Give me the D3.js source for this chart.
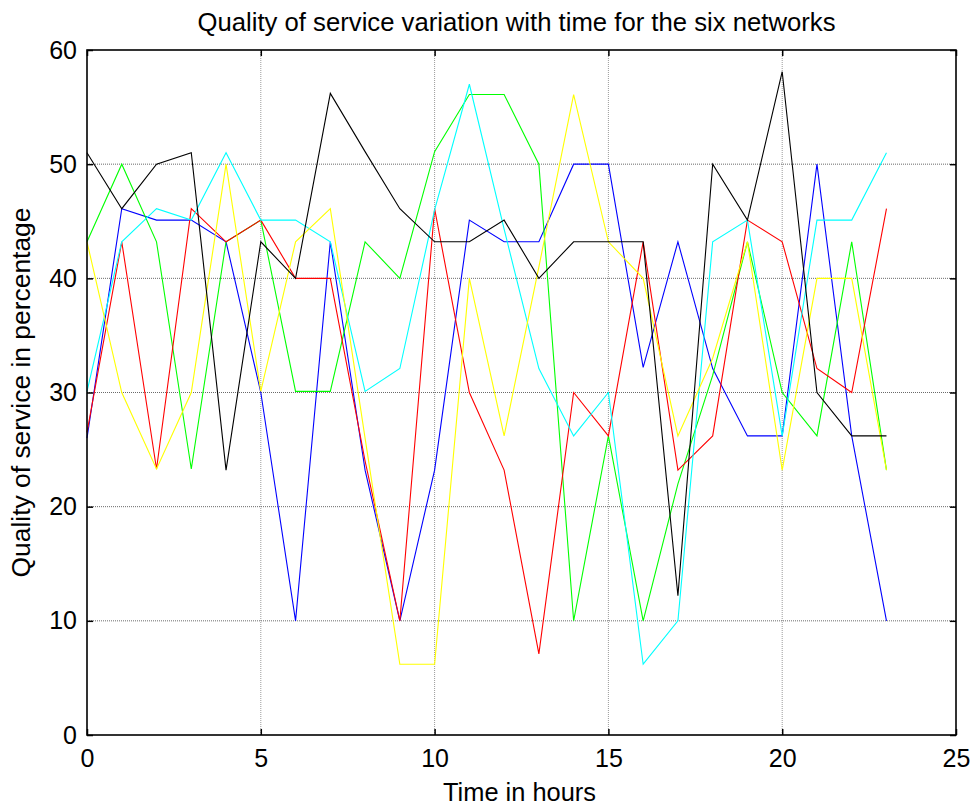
<!DOCTYPE html>
<html>
<head>
<meta charset="utf-8">
<script src="https://cdn.jsdelivr.net/npm/d3@7"></script>
<style>
  html, body { margin: 0; padding: 0; background: #fff; }
  svg { display: block; }
  text { font-family: "Liberation Sans", Arial, sans-serif; fill: #000; }
</style>
</head>
<body>
<svg id="chart" width="972" height="805"></svg>
<script>
// Hours of the day (0..23)
const hours = d3.range(0, 24);

// Quality of service (%) per network, one value per hour
const blueNet   = [26, 46.1, 45.1, 45.1, 43.2, 30, 10, 43.2, 23.2, 10, 23.2, 45.1, 43.2, 43.2, 50, 50, 32.2, 43.2, 32.1, 26.2, 26.2, 50, 26.2, 10];
const redNet    = [26.5, 43.2, 23.3, 46.1, 43.2, 45.1, 40, 40, 24, 10, 46.1, 30, 23.2, 7.1, 30, 26.2, 43.2, 23.2, 26.2, 45.1, 43.2, 32.1, 30, 46.1];
const greenNet  = [43.2, 50, 43.2, 23.3, 43.2, 45.1, 30.1, 30.1, 43.2, 40, 51.1, 56.1, 56.1, 50, 10, 26.2, 10, 22, 31.5, 43.2, 30, 26.2, 43.2, 23.2];
const cyanNet   = [30.1, 43.2, 46.1, 45.1, 51, 45.1, 45.1, 43.2, 30.1, 32.1, 46, 57, 44.3, 32.1, 26.2, 30, 6.2, 10, 43.2, 45.1, 26.2, 45.1, 45.1, 51];
const yellowNet = [43.2, 30, 23.3, 30, 50, 30.1, 43.2, 46.1, 26, 6.2, 6.2, 40, 26.2, 41, 56.1, 43.2, 40, 26.2, 33, 43.2, 23.2, 40, 40, 23.2];
const blackNet  = [51, 46.1, 50, 51, 23.2, 43.2, 40, 56.2, 51.1, 46.1, 43.2, 43.2, 45.1, 40, 43.2, 43.2, 43.2, 12.2, 50, 45.1, 58.1, 30, 26.2, 26.2];

const seriesList = [
  { values: blueNet,   color: "#0000ff" },
  { values: greenNet,  color: "#00ff00" },
  { values: redNet,    color: "#ff0000" },
  { values: cyanNet,   color: "#00ffff" },
  { values: yellowNet, color: "#ffff00" },
  { values: blackNet,  color: "#000000" }
];

const xTicks = [0, 5, 10, 15, 20, 25];
const yTicks = [0, 10, 20, 30, 40, 50, 60];

const titleText = "Quality of service variation with time for the six networks";
const xLabel = "Time in hours";
const yLabel = "Quality of service in percentage";

const plotLeft = 87, plotRight = 956, plotTop = 50, plotBottom = 735;
const fontSize = 25;

const svg = d3.select("#chart");
const x = d3.scaleLinear().domain([0, 25]).range([plotLeft, plotRight]);
const y = d3.scaleLinear().domain([0, 60]).range([plotBottom, plotTop]);

// grid
const grid = svg.append("g");
grid.selectAll("line.gx").data(xTicks.slice(1, -1)).join("line")
  .attr("x1", d => x(d)).attr("x2", d => x(d))
  .attr("y1", plotTop).attr("y2", plotBottom)
  .attr("stroke", "#9a9a9a").attr("stroke-width", 1)
  .attr("stroke-dasharray", "1,1");
grid.selectAll("line.gy").data(yTicks.slice(1, -1)).join("line")
  .attr("x1", plotLeft).attr("x2", plotRight)
  .attr("y1", d => y(d)).attr("y2", d => y(d))
  .attr("stroke", "#6a6a6a").attr("stroke-width", 1)
  .attr("stroke-dasharray", "1,1");

// series lines
const line = d3.line().x((d, i) => x(hours[i])).y(d => y(d));
svg.append("g").selectAll("path").data(seriesList).join("path")
  .attr("d", d => line(d.values))
  .attr("fill", "none")
  .attr("stroke", d => d.color)
  .attr("stroke-width", 1.1)
  .attr("stroke-linejoin", "miter");

// axes with inward ticks on all four sides
const tickLen = 6;
svg.append("g").attr("transform", `translate(0,${plotBottom})`)
  .call(d3.axisBottom(x).tickValues(xTicks).tickSize(-tickLen).tickPadding(8).tickFormat(d3.format("d")))
  .call(g => g.select(".domain").remove())
  .call(g => g.selectAll("line").attr("stroke", "#000").attr("stroke-width", 1.5))
  .call(g => g.selectAll("text").attr("font-size", fontSize).attr("font-family", "Liberation Sans, Arial, sans-serif").attr("dy", "0.95em"));
svg.append("g").attr("transform", `translate(0,${plotTop})`)
  .call(d3.axisTop(x).tickValues(xTicks).tickSize(-tickLen).tickFormat(""))
  .call(g => g.select(".domain").remove())
  .call(g => g.selectAll("line").attr("stroke", "#000").attr("stroke-width", 1.5));
svg.append("g").attr("transform", `translate(${plotLeft},0)`)
  .call(d3.axisLeft(y).tickValues(yTicks).tickSize(-tickLen).tickPadding(10).tickFormat(d3.format("d")))
  .call(g => g.select(".domain").remove())
  .call(g => g.selectAll("line").attr("stroke", "#000").attr("stroke-width", 1.5))
  .call(g => g.selectAll("text").attr("font-size", fontSize).attr("font-family", "Liberation Sans, Arial, sans-serif"));
svg.append("g").attr("transform", `translate(${plotRight},0)`)
  .call(d3.axisRight(y).tickValues(yTicks).tickSize(-tickLen).tickFormat(""))
  .call(g => g.select(".domain").remove())
  .call(g => g.selectAll("line").attr("stroke", "#000").attr("stroke-width", 1.5));

// axes box
svg.append("rect")
  .attr("x", plotLeft).attr("y", plotTop)
  .attr("width", plotRight - plotLeft).attr("height", plotBottom - plotTop)
  .attr("fill", "none").attr("stroke", "#000").attr("stroke-width", 1.6);

// title and labels
svg.append("text")
  .attr("x", (plotLeft + plotRight) / 2 - 5).attr("y", 31)
  .attr("text-anchor", "middle").attr("font-size", 25.5)
  .attr("textLength", 638).attr("lengthAdjust", "spacingAndGlyphs")
  .text(titleText);
svg.append("text")
  .attr("x", (plotLeft + plotRight) / 2 - 2).attr("y", 801)
  .attr("text-anchor", "middle").attr("font-size", fontSize)
  .attr("textLength", 153).attr("lengthAdjust", "spacingAndGlyphs")
  .text(xLabel);
svg.append("text")
  .attr("transform", `translate(30,${(plotTop + plotBottom) / 2}) rotate(-90)`)
  .attr("text-anchor", "middle").attr("font-size", 26)
  .attr("textLength", 370).attr("lengthAdjust", "spacingAndGlyphs")
  .text(yLabel);
</script>
</body>
</html>
